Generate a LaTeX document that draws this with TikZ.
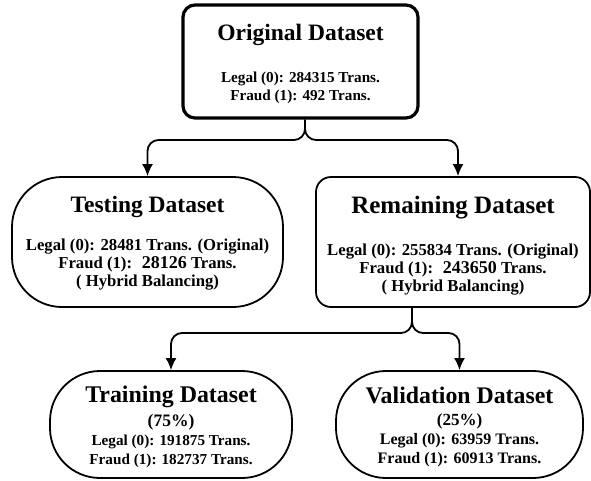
\documentclass[tikz,border=0pt]{standalone}
\usepackage{fontspec}
\setmainfont{Liberation Serif}
\usetikzlibrary{arrows.meta}
\newcommand\dsfont[2]{\fontsize{#1}{#2}\selectfont}
\newcommand\bignum[1]{{\dsfont{18}{18}#1}}
\tikzset{
  dsbox/.style = {draw = black, line width = 1.8pt, align = center, inner sep = 0pt},
  pillbox/.style = {dsbox, rounded corners = 50pt},
  flow/.style = {draw = black, line width = 1.8pt, rounded corners = 11pt, -{Latex[length = 12pt, width = 11pt]}}
}
\begin{document}
\begin{tikzpicture}[x = 1pt, y = -1pt]
\useasboundingbox (0,0) rectangle (591,480);
% boxes
\node[dsbox, line width = 3.2pt, rounded corners = 12pt, minimum width = 235pt, minimum height = 113pt,
  font = \bfseries\dsfont{15.2}{18}] (orig) at (300.5,61.5)
  {{\dsfont{23.5}{26}\rule{0pt}{21.3pt}Original Dataset}\\[24pt] Legal (0): 284315 Trans.\\ Fraud (1): 492 Trans.};
\node[pillbox, minimum width = 271pt, minimum height = 130pt,
  font = \bfseries\dsfont{16.7}{18}] (test) at (147.5,242)
  {{\dsfont{23.5}{26}\rule{0pt}{17.7pt}Testing Dataset}\\[20pt] Legal (0): 28481 Trans. (Original)\\ Fraud (1):~ \bignum{28126} Trans.\\ ( Hybrid Balancing)};
\node[dsbox, rounded corners = 15pt, minimum width = 274pt, minimum height = 130pt,
  font = \bfseries\dsfont{16.7}{18}] (rem) at (453,242)
  {{\dsfont{25}{26}\rule{0pt}{23.7pt}Remaining Dataset}\\[24pt] Legal (0): 255834 Trans. (Original)\\ Fraud (1):~ \bignum{243650} Trans.\\ ( Hybrid Balancing)};
\node[pillbox, minimum width = 242pt, minimum height = 107pt,
  font = \bfseries\dsfont{15.2}{19}] (train) at (171,424.5)
  {{\dsfont{23.9}{26}\rule{0pt}{20.3pt}Training Dataset}\\[5pt] {\dsfont{17.5}{19}(75\%)}\\ Legal (0): 191875 Trans.\\ Fraud (1): 182737 Trans.};
\node[pillbox, minimum width = 247pt, minimum height = 107pt,
  font = \bfseries\dsfont{16}{19}] (valid) at (459.5,424.5)
  {{\dsfont{23.8}{26}\rule{0pt}{20.5pt}Validation Dataset}\\[3pt] {\dsfont{17}{19}(25\%)}\\ Legal (0): 63959 Trans.\\ Fraud (1): 60913 Trans.};
% connectors
\coordinate (split1) at (305,140);
\coordinate (split2) at (412,333);
\draw[flow] (split1 |- orig.south) -- (split1) -| (test.north);
\draw[flow] (split1 |- orig.south) -- (split1) -| (rem.north -| 458,0);
\draw[flow] (split2 |- rem.south) -- (split2) -| (train.north);
\draw[flow] (split2 |- rem.south) -- (split2) -| (valid.north);
\end{tikzpicture}
\end{document}
